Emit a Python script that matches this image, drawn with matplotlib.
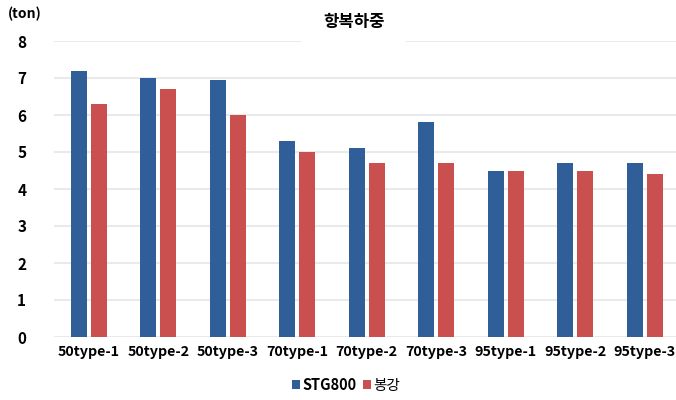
import numpy as np
import matplotlib
matplotlib.use("Agg")
import matplotlib.pyplot as plt
from matplotlib.patches import Rectangle

plt.rcParams['font.family'] = ['Noto Sans CJK KR', 'DejaVu Sans']

# data
categories = ["50type-1", "50type-2", "50type-3", "70type-1", "70type-2",
              "70type-3", "95type-1", "95type-2", "95type-3"]
stg800 = [7.2, 7.0, 6.95, 5.3, 5.1, 5.8, 4.5, 4.7, 4.7]
bonggang = [6.3, 6.7, 6.0, 5.0, 4.7, 4.7, 4.5, 4.5, 4.4]
series_names = ["STG800", "봉강"]
yticks = [0, 1, 2, 3, 4, 5, 6, 7, 8]

BLUE = "#2F5E98"
RED = "#C9504F"
GRID = "#EAEAEA"

W, H = 676, 400
fig = plt.figure(figsize=(W / 100, H / 100), dpi=100)
# axes: left 54px, plot from y=41 (8) to y=337 (0)
ax = fig.add_axes([54 / W, (H - 337) / H, 1 - 54 / W, (337 - 41) / H])

x = np.arange(len(categories))
bw = 0.23
off = 0.145
ax.bar(x - off, stg800, bw, color=BLUE, label=series_names[0], zorder=3)
ax.bar(x + off, bonggang, bw, color=RED, label=series_names[1], zorder=3)

ax.set_ylim(0, 8)
ax.set_xlim(-0.5, 8.5 - 3.5 / 69.5)
ax.set_yticks(yticks)
ax.set_yticklabels([str(v) for v in yticks], fontweight="bold", fontsize=11)
ax.set_xticks(x)
ax.set_xticklabels(categories, fontweight="bold", fontsize=10.3)
ax.tick_params(axis="y", length=0, pad=20)
ax.tick_params(axis="x", length=0, pad=6)
ax.yaxis.grid(True, color=GRID, linewidth=1.5, zorder=0)
for s in ax.spines.values():
    s.set_visible(False)

# title with white box over the top gridline
fig.patches.append(Rectangle((301 / W, (H - 47) / H), 105 / W, 14 / H,
                             transform=fig.transFigure, facecolor="white",
                             edgecolor="none", zorder=5))
fig.text(354 / W, (H - 22) / H, "항복하중", ha="center", va="center",
         fontsize=12, fontweight="bold", zorder=6)
fig.text(8 / W, (H - 14) / H, "(ton)", ha="left", va="center",
         fontsize=10, fontweight="bold")

leg = fig.legend(loc="center", bbox_to_anchor=(346 / W, (H - 385) / H),
                 ncol=2, frameon=False, fontsize=10.5,
                 handlelength=0.55, handleheight=0.55, handletextpad=0.2,
                 columnspacing=0.4, borderaxespad=0)
for t in leg.get_texts():
    if t.get_text() == "STG800":
        t.set_fontweight("bold")

fig.savefig("out.png", dpi=100)
